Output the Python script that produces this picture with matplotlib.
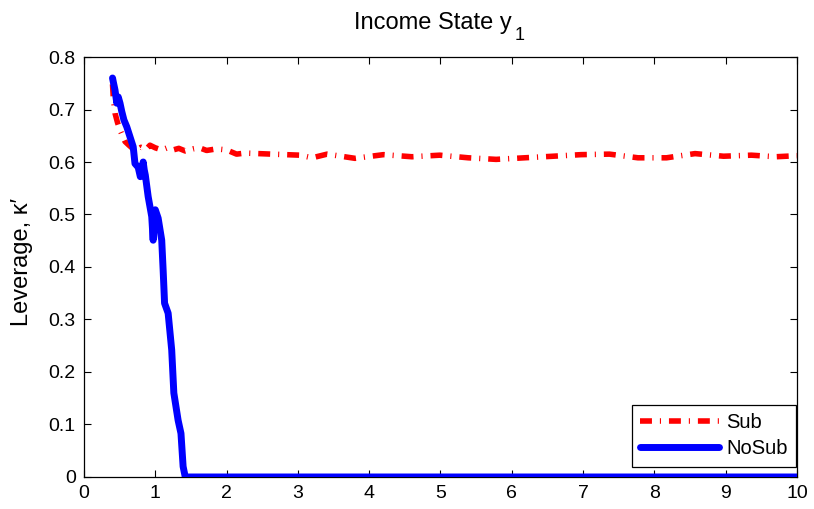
import numpy as np
import matplotlib.pyplot as plt

plt.rcParams['font.family'] = ['Liberation Sans', 'DejaVu Sans']

# Sub: leverage with subsidy
sub_x = [0.40, 0.41, 0.435, 0.47, 0.505, 0.54, 0.575, 0.63, 0.68, 0.74, 0.80,
         0.87, 0.925, 1.0, 1.09, 1.17, 1.25, 1.33, 1.42, 1.53, 1.62, 1.72,
         1.86, 2.0, 2.14, 2.26, 2.63, 3.03, 3.2, 3.41, 3.80, 4.20, 4.60, 4.99,
         5.39, 5.78, 6.18, 6.58, 6.97, 7.37, 7.77, 8.17, 8.57, 8.97, 9.36,
         9.7, 10.0]
sub_y = [0.748, 0.724, 0.693, 0.675, 0.661, 0.650, 0.639, 0.632, 0.626, 0.623,
         0.628, 0.624, 0.632, 0.627, 0.623, 0.627, 0.623, 0.626, 0.621, 0.625,
         0.627, 0.622, 0.625, 0.623, 0.615, 0.617, 0.615, 0.613, 0.608, 0.615,
         0.607, 0.614, 0.610, 0.613, 0.608, 0.605, 0.608, 0.611, 0.614, 0.615,
         0.608, 0.608, 0.616, 0.611, 0.613, 0.610, 0.612]

# NoSub: leverage without subsidy
nosub_x = [0.40, 0.41, 0.435, 0.46, 0.48, 0.505, 0.53, 0.56, 0.60, 0.645, 0.69,
           0.715, 0.76, 0.79, 0.81, 0.83, 0.845, 0.86, 0.90, 0.95, 0.97, 0.98,
           1.0, 1.04, 1.09, 1.11, 1.13, 1.18, 1.23, 1.26, 1.32, 1.36, 1.39,
           1.42, 1.5, 3.0, 6.0, 10.0]
nosub_y = [0.760, 0.753, 0.737, 0.712, 0.724, 0.712, 0.696, 0.680, 0.667, 0.648,
           0.629, 0.597, 0.590, 0.572, 0.578, 0.600, 0.585, 0.575, 0.534, 0.496,
           0.451, 0.500, 0.509, 0.493, 0.451, 0.394, 0.331, 0.312, 0.242, 0.160,
           0.108, 0.083, 0.020, 0.0, 0.0, 0.0, 0.0, 0.0]

fig = plt.figure(figsize=(8.14, 5.09), dpi=100)
ax = fig.add_axes([0.1032, 0.0629, 0.8759, 0.8251])

ax.plot(sub_x, sub_y, color='red', lw=4, dashes=(2.15, 1.43, 0.2, 1.43),
        dash_capstyle='butt', label='Sub')
ax.plot(nosub_x, nosub_y, color='blue', lw=5, solid_capstyle='round',
        solid_joinstyle='round', label='NoSub', zorder=3)

ax.set_xlim(0, 10)
ax.set_ylim(0, 0.8)
ax.set_xticks(np.arange(0, 11, 1))
ax.set_yticks(np.round(np.arange(0, 0.81, 0.1), 1))
ax.set_yticklabels(['0', '0.1', '0.2', '0.3', '0.4', '0.5', '0.6', '0.7', '0.8'])
ax.tick_params(direction='in', top=True, right=True, length=5, width=0.8,
               labelsize=14, pad=6)
for s in ax.spines.values():
    s.set_linewidth(0.9)

# title with a MATLAB-like dropped subscript
title = ax.text(0.49, 1 + 28.0 / 420, 'Income State y', transform=ax.transAxes,
                ha='center', va='baseline', fontsize=17)
ax.annotate('1', xy=(1, 0), xycoords=title, xytext=(1.5, -4),
            textcoords='offset points', ha='left', va='baseline', fontsize=13)

ax.set_ylabel('Leverage, κ′', fontsize=17)
ax.yaxis.set_label_coords(-0.0715, 0.511)

leg = ax.legend(loc='lower right', bbox_to_anchor=(0.9985, 0.0245), fontsize=14.5,
                fancybox=False, edgecolor='black', framealpha=1,
                handlelength=3.9, handletextpad=0.35, borderpad=0.42,
                labelspacing=0.35, borderaxespad=0)
leg.get_frame().set_linewidth(0.9)

fig.savefig('out.png', dpi=100)
